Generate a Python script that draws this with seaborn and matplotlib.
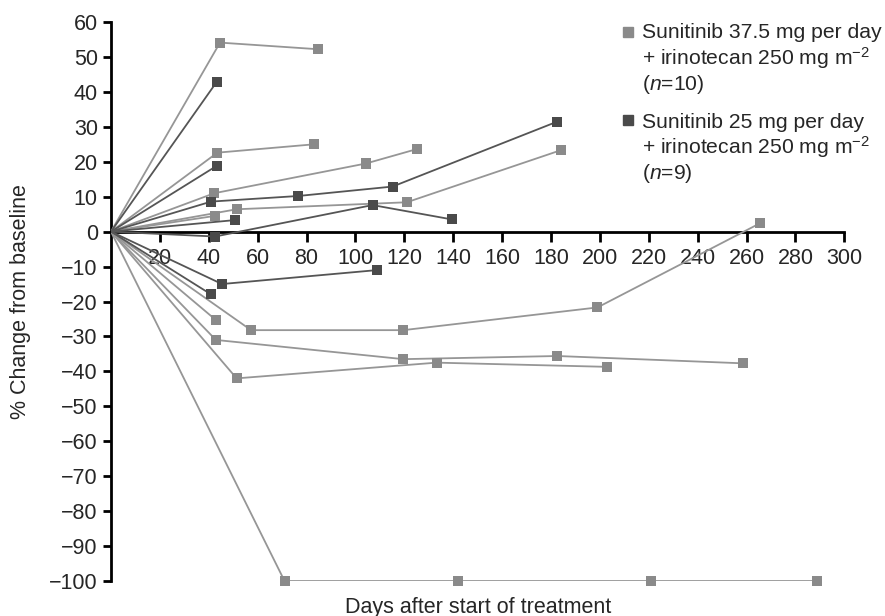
import matplotlib
matplotlib.use("Agg")
import matplotlib.pyplot as plt
from matplotlib.lines import Line2D
import seaborn as sns
import pandas as pd

# ---------------- data ----------------
group_hi = "Sunitinib 37.5 mg per day"
group_lo = "Sunitinib 25 mg per day"

# 37.5 mg per day + irinotecan (light grey), one list per patient
hi_days = [
    [0, 44.6, 84.8],
    [0, 43.5, 83.2],
    [0, 42.3, 104.3, 125.0],
    [0, 51.4, 121.0, 184.0],
    [0, 42.5],
    [0, 42.9],
    [0, 57.3, 119.6, 199.0, 265.5],
    [0, 42.9, 119.6, 182.6, 258.7],
    [0, 51.4, 133.2, 202.8],
    [0, 71.0, 142.0, 221.0, 289.0],
]
hi_vals = [
    [0, 54.1, 52.2],
    [0, 22.6, 25.0],
    [0, 11.0, 19.5, 23.6],
    [0, 6.4, 8.4, 23.3],
    [0, 4.5],
    [0, -25.3],
    [0, -28.2, -28.2, -21.7, 2.4],
    [0, -31.0, -36.5, -35.6, -37.7],
    [0, -42.0, -37.5, -38.7],
    [0, -100, -100, -100, -100],
]

# 25 mg per day + irinotecan (dark grey)
lo_days = [
    [0, 43.2],
    [0, 43.2],
    [0, 41.0, 76.6, 115.2, 182.6],
    [0, 50.7],
    [0, 42.6, 107.0, 139.4],
    [0, 45.4, 109.0],
    [0, 40.8],
]
lo_vals = [
    [0, 42.8],
    [0, 18.8],
    [0, 8.6, 10.2, 12.9, 31.5],
    [0, 3.3],
    [0, -1.4, 7.6, 3.5],
    [0, -15.0, -11.0],
    [0, -17.9],
]

x_ticks = [20, 40, 60, 80, 100, 120, 140, 160, 180, 200, 220, 240, 260, 280, 300]
y_ticks = [-100, -90, -80, -70, -60, -50, -40, -30, -20, -10, 0, 10, 20, 30, 40, 50, 60]

legend_hi = "Sunitinib 37.5 mg per day\n+ irinotecan 250 mg m$^{\\mathregular{-2}}$\n($\\mathit{n}$=10)"
legend_lo = "Sunitinib 25 mg per day\n+ irinotecan 250 mg m$^{\\mathregular{-2}}$\n($\\mathit{n}$=9)"

# ---------------- table ----------------
rows = []
for g, dd, vv in ((group_hi, hi_days, hi_vals), (group_lo, lo_days, lo_vals)):
    for i, (d, v) in enumerate(zip(dd, vv)):
        for x, y in zip(d, v):
            rows.append({"group": g, "patient": f"{g} #{i}", "day": x, "change": y})
df = pd.DataFrame(rows)

# ---------------- style ----------------
sns.set_style("white")
plt.rcParams["font.family"] = ["Liberation Sans", "DejaVu Sans"]
plt.rcParams["mathtext.fontset"] = "custom"
plt.rcParams["mathtext.rm"] = "Liberation Sans"
plt.rcParams["mathtext.it"] = "Liberation Sans:italic"
plt.rcParams["mathtext.default"] = "regular"

line_pal = {group_hi: "#969696", group_lo: "#555555"}
mark_pal = {group_hi: "#8a8a8a", group_lo: "#4a4a4a"}

fig = plt.figure(figsize=(8.85, 6.16), dpi=100)
ax = fig.add_axes([0.1254, 0.0568, 0.8287, 0.9075])

sns.lineplot(data=df, x="day", y="change", hue="group", units="patient",
             estimator=None, palette=line_pal, linewidth=1.3, legend=False,
             ax=ax, sort=False, zorder=2)
sns.scatterplot(data=df[df["day"] > 0], x="day", y="change", hue="group",
                palette=mark_pal, marker="s", s=52, edgecolor="none",
                legend=False, ax=ax, clip_on=False, zorder=3)

ax.set_xlim(0, 300)
ax.set_ylim(-100, 60)
ax.set_xticks(x_ticks)
ax.set_yticks(y_ticks)
ax.set_yticklabels([f"{t}".replace("-", "\u2212") for t in y_ticks])

for s in ("top", "right"):
    ax.spines[s].set_visible(False)
ax.spines["left"].set_position(("data", 0))
ax.spines["bottom"].set_position(("data", 0))
for s in ("left", "bottom"):
    ax.spines[s].set_linewidth(2.0)
    ax.spines[s].set_color("black")
    ax.spines[s].set_zorder(1)

ax.tick_params(axis="y", direction="out", length=5.5, width=2, pad=4,
               labelsize=15.5, left=True, color="black")
ax.tick_params(axis="x", direction="out", length=7, width=2, pad=5,
               labelsize=15.5, bottom=True, color="black")

ax.set_ylabel("% Change from baseline", fontsize=15.5, labelpad=13)
ax.set_xlabel("Days after start of treatment", fontsize=15.5)
ax.xaxis.set_label_coords(0.5, -0.028)

# legend (manual, marker aligned to first line)
for y_m, y_t, col, txt in ((0.9485, 0.962, mark_pal[group_hi], legend_hi),
                           (0.8052, 0.8169, mark_pal[group_lo], legend_lo)):
    fig.add_artist(Line2D([0.7096], [y_m], marker="s", markersize=7,
                          color=col, linestyle="none",
                          transform=fig.transFigure))
    fig.text(0.7255, y_t, txt, fontsize=15.2, va="top", ha="left",
             linespacing=1.13)

fig.savefig("out.png", dpi=100)
